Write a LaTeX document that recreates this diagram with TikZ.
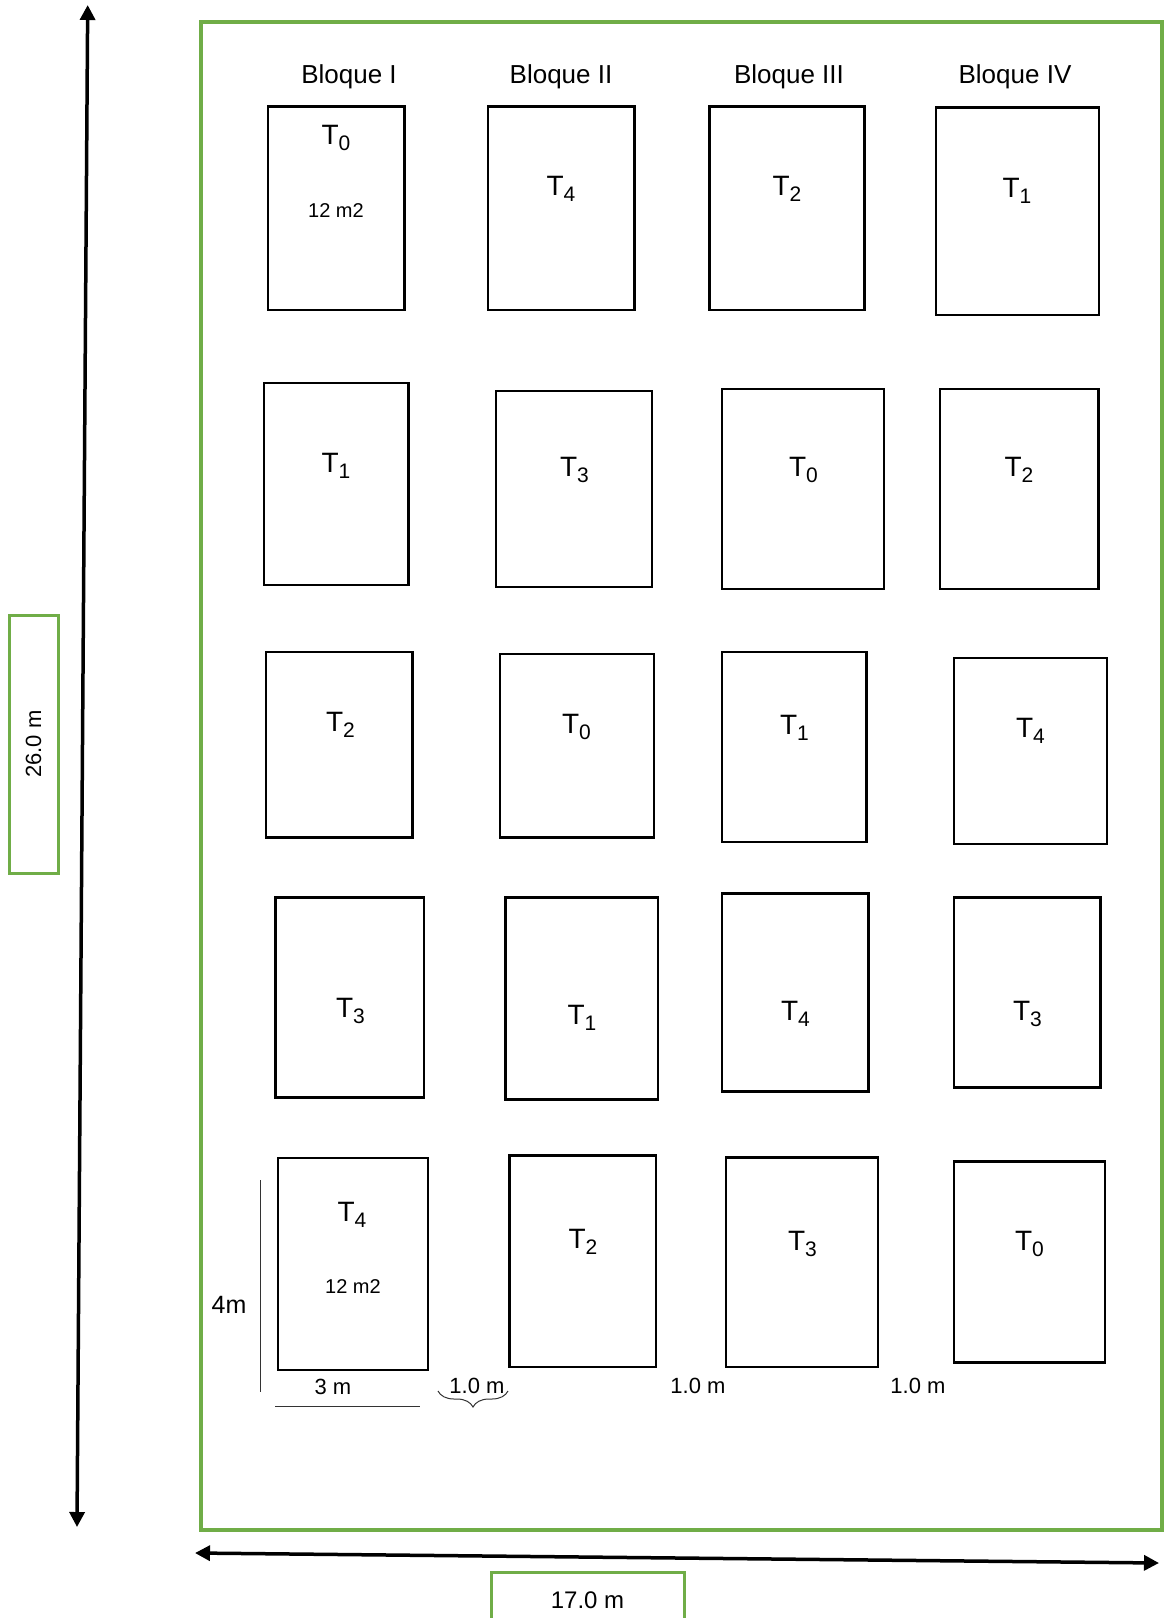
\documentclass[tikz,border=0pt]{standalone}
\usepackage{fontspec}
\setmainfont{Liberation Sans}
\usetikzlibrary{fit,arrows.meta,decorations.pathreplacing}
\definecolor{fieldgreen}{RGB}{112,173,71}
\newcommand{\Tlab}[1]{T\raisebox{-6pt}{\fontsize{21}{21}\selectfont #1}}
\begin{document}
\begin{tikzpicture}[x=1pt,y=-1pt,
  plotbox/.style={draw=black,line width=2.6pt,inner sep=0pt},
  tlab/.style={font=\fontsize{28}{30}\selectfont,inner sep=0pt},
  blab/.style={font=\fontsize{26}{30}\selectfont,inner sep=0pt,anchor=base},
  area/.style={font=\fontsize{20}{24}\selectfont,inner sep=0pt},
  dimtxt/.style={font=\fontsize{22}{26}\selectfont,inner sep=0pt},
  greenbox/.style={draw=fieldgreen,line width=3pt,inner sep=0pt},
  bigarrow/.style={line width=3.5pt,{Triangle[length=15pt,width=15pt]}-{Triangle[length=15pt,width=15pt]}},
  thindim/.style={line width=1pt,draw=black!80}
]
\useasboundingbox (0,0) rectangle (1175,1618);

% field outline
\node[greenbox,line width=3.5pt,fit={(201,22) (1162,1530)}] (field) {};

% block labels
\node[blab] (bI) at (349,83) {Bloque I};
\node[blab] (bII) at (561,83) {Bloque II};
\node[blab] (bIII) at (789,83) {Bloque III};
\node[blab] (bIV) at (1015,83) {Bloque IV};

% row 1
\node[plotbox,fit={(268,106.5) (404.5,310)}] (p11) {};
\node[plotbox,fit={(488,106.5) (634.5,310)}] (p12) {};
\node[plotbox,fit={(709.5,106.5) (864.5,310)}] (p13) {};
\node[plotbox,fit={(936,107.5) (1099,315)}] (p14) {};
\node[tlab] (t11) at (336,138) {\Tlab{0}};
\node[area] (a11) at (336,210.5) {12 m2};
\node[tlab] (t12) at (561,189) {\Tlab{4}};
\node[tlab] (t13) at (787,189) {\Tlab{2}};
\node[tlab] (t14) at (1017,191) {\Tlab{1}};

% row 2
\node[plotbox,fit={(264,383) (408.5,585)}] (p21) {};
\node[plotbox,fit={(496,391) (652,587)}] (p22) {};
\node[plotbox,fit={(722,389) (884,589)}] (p23) {};
\node[plotbox,fit={(940,389) (1098.5,589)}] (p24) {};
\node[tlab] (t21) at (336,465.5) {\Tlab{1}};
\node[tlab] (t22) at (574.5,469.5) {\Tlab{3}};
\node[tlab] (t23) at (803.5,469.5) {\Tlab{0}};
\node[tlab] (t24) at (1019,469.5) {\Tlab{2}};

% row 3
\node[plotbox,fit={(266,652) (412.5,837.5)}] (p31) {};
\node[plotbox,fit={(500,654) (654,837.5)}] (p32) {};
\node[plotbox,fit={(722,652) (866.5,842)}] (p33) {};
\node[plotbox,fit={(954,658) (1107,844)}] (p34) {};
\node[tlab] (t31) at (340.5,725) {\Tlab{2}};
\node[tlab] (t32) at (576.5,726.5) {\Tlab{0}};
\node[tlab] (t33) at (794.5,727.5) {\Tlab{1}};
\node[tlab] (t34) at (1030.5,730.5) {\Tlab{4}};

% row 4
\node[plotbox,fit={(275.5,897.5) (424,1097.5)}] (p41) {};
\node[plotbox,fit={(505.5,897.5) (658,1099.5)}] (p42) {};
\node[plotbox,fit={(722,893.5) (868.5,1091.5)}] (p43) {};
\node[plotbox,fit={(954,897.5) (1100.5,1087.5)}] (p44) {};
\node[tlab] (t41) at (350.5,1011) {\Tlab{3}};
\node[tlab] (t42) at (582,1018) {\Tlab{1}};
\node[tlab] (t43) at (795.5,1014) {\Tlab{4}};
\node[tlab] (t44) at (1027.5,1014) {\Tlab{3}};

% row 5
\node[plotbox,fit={(278,1158) (428,1370)}] (p51) {};
\node[plotbox,fit={(509.5,1155.5) (656,1367)}] (p52) {};
\node[plotbox,fit={(726,1157.5) (878,1367)}] (p53) {};
\node[plotbox,fit={(954,1161.5) (1105,1362.5)}] (p54) {};
\node[tlab] (t51) at (352,1215) {\Tlab{4}};
\node[area] (a51) at (353,1286.5) {12 m2};
\node[tlab] (t52) at (583,1242) {\Tlab{2}};
\node[tlab] (t53) at (802.5,1244) {\Tlab{3}};
\node[tlab] (t54) at (1029.5,1244) {\Tlab{0}};

% dimension annotations
\coordinate (d4a) at (260,1180);
\coordinate (d4b) at (260,1392);
\draw[thindim] (d4a) -- (d4b);
\node[font=\fontsize{25}{28}\selectfont,inner sep=0pt] (l4m) at (229,1305) {4m};
\coordinate (d3a) at (275,1406);
\coordinate (d3b) at (420,1406);
\draw[thindim] (d3a) -- (d3b);
\node[dimtxt] (l3m) at (333,1387) {3 m};
\coordinate (bra) at (438,1391);
\coordinate (brb) at (508,1391);
\draw[thindim,decorate,decoration={brace,mirror,amplitude=16pt}] (bra) -- (brb);
\node[dimtxt] (l1a) at (477,1386) {1.0 m};
\node[dimtxt] (l1b) at (698,1386) {1.0 m};
\node[dimtxt] (l1c) at (918,1386) {1.0 m};

% overall dimension arrows
\coordinate (vtop) at (87.7,5);
\coordinate (vbot) at (77,1527);
\draw[bigarrow] (vbot) -- (vtop);
\coordinate (hl) at (195,1553);
\coordinate (hr) at (1159,1563);
\draw[bigarrow] (hl) -- (hr);

% dimension label boxes
\node[greenbox,rotate=90,minimum width=258pt,minimum height=49pt,font=\fontsize{22}{26}\selectfont] (len) at (33.5,744) {26.0 m};
\node[greenbox,minimum width=193pt,minimum height=56pt,anchor=north,font=\fontsize{24}{28}\selectfont] (wid) at (587.5,1571) {17.0 m};
\end{tikzpicture}
\end{document}
